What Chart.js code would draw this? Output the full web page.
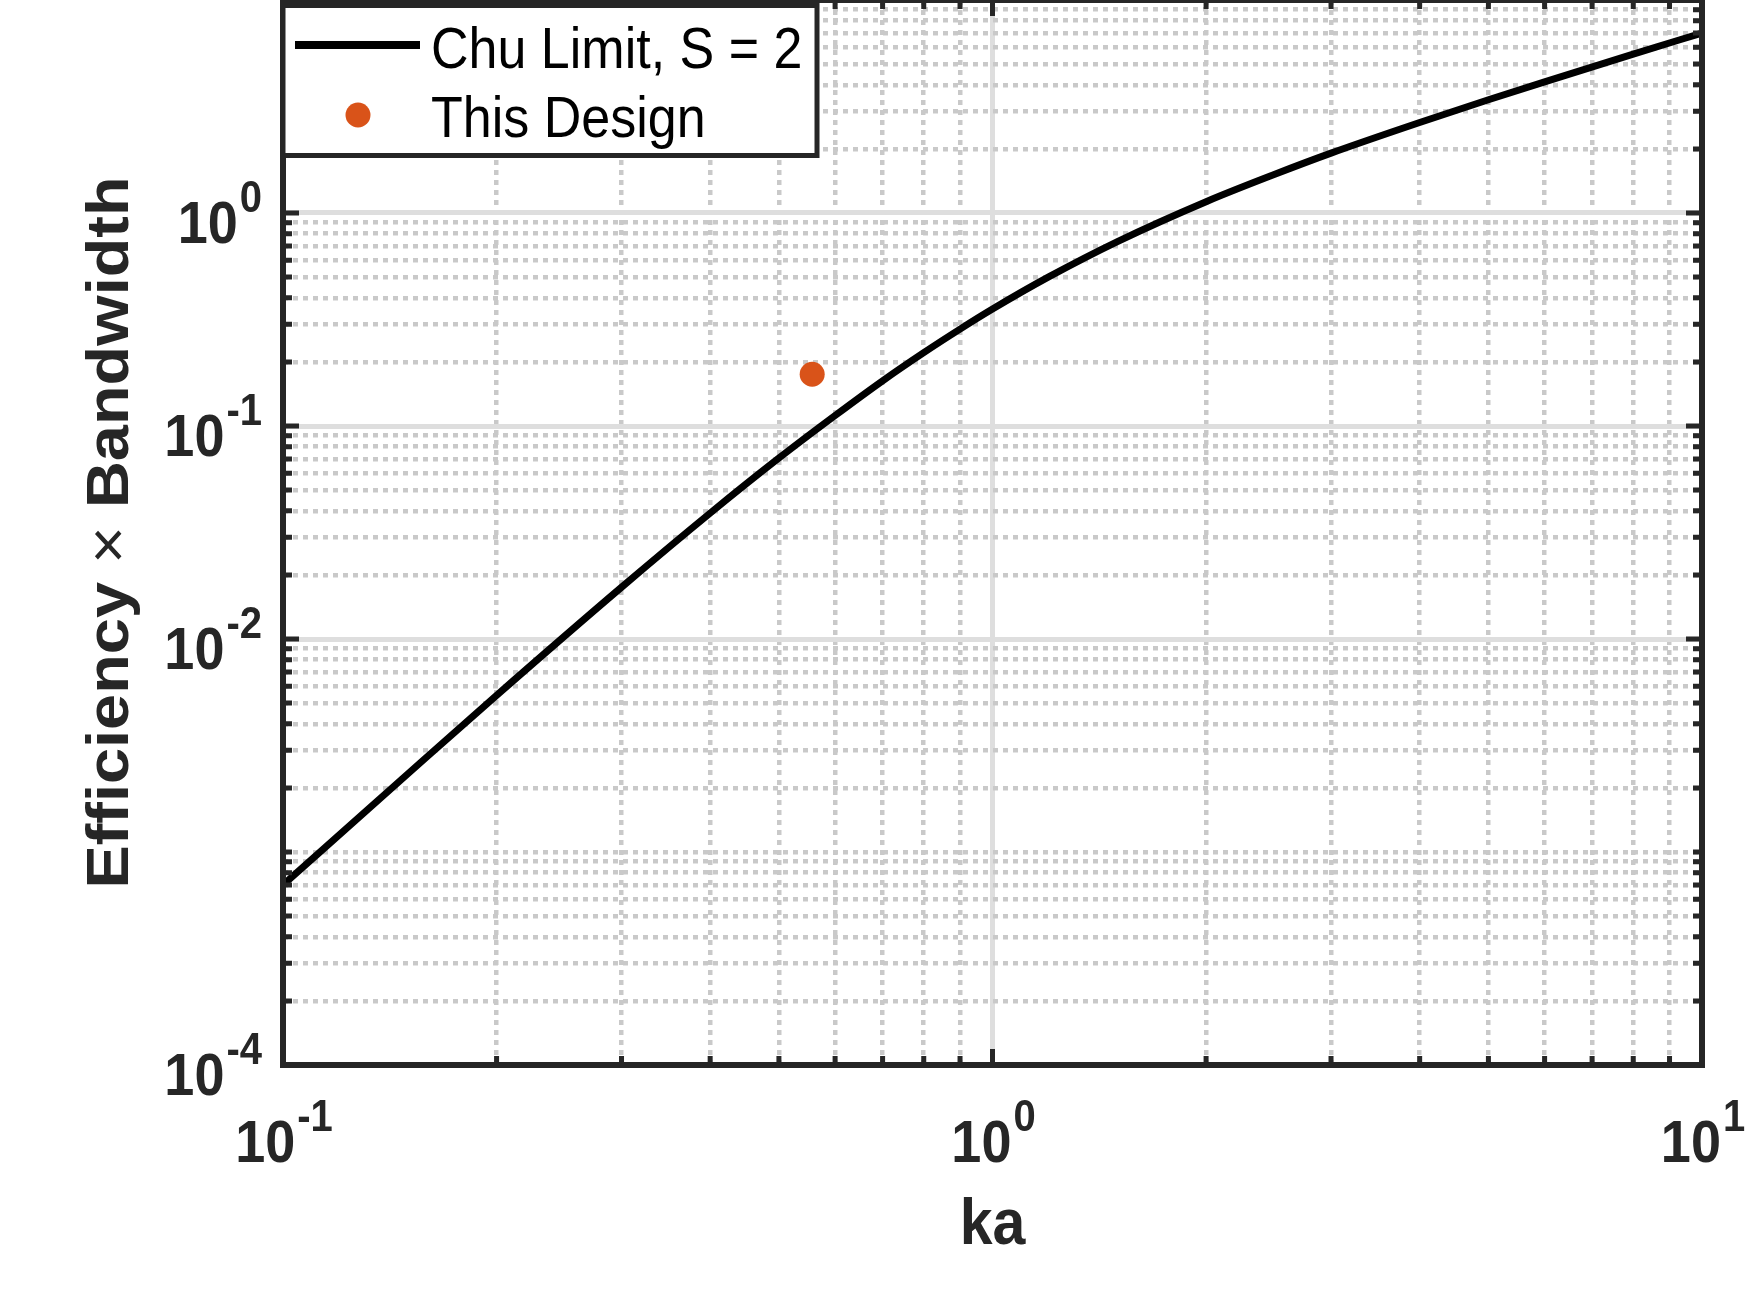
<!DOCTYPE html>
<html>
<head>
<meta charset="utf-8">
<title>Chu Limit</title>
<script src="https://cdn.jsdelivr.net/npm/chart.js@4/dist/chart.umd.min.js"></script>
<style>
  html, body { margin: 0; padding: 0; background: #fff; }
  canvas { display: block; }
</style>
</head>
<body>
<canvas id="chuChart" width="1763" height="1313"></canvas>
<script>
// Chu limit curve
const kaValues = [0.1, 0.15, 0.2, 0.3, 0.4, 0.5, 0.6, 0.7, 0.8, 0.9, 1.0, 1.2, 1.5, 2, 2.5, 3, 4, 5, 6, 8, 10];
const chuValues = [0.0007, 0.00233, 0.00544, 0.0175, 0.039, 0.0707, 0.112, 0.163, 0.221, 0.285, 0.354, 0.501, 0.734, 1.13, 1.52, 1.91, 2.66, 3.40, 4.13, 5.57, 7.00];

// the single design point
const designKa = [0.557];
const designValues = [0.175];

// labelled ticks (shown as 10^exp)
const xTickValues = [0.1, 1, 10];
const xTickExps = ['-1', '0', '1'];
const yTickValues = [1e-4, 1e-2, 1e-1, 1];
const yTickExps = ['-4', '-2', '-1', '0'];

const legendLabels = ['Chu Limit, S = 2', 'This Design'];
const xTitle = 'ka';
const yTitle = 'Efficiency \u00d7 Bandwidth';

const FONT = '"Liberation Sans", Arial, Helvetica, sans-serif';
const STRETCH = 1.1;     // text in the original is a bit taller than wide
const AXIS_COLOR = '#262626';
const ORANGE = '#D95319';

// all 1..9 x 10^n positions, major = the labelled ones
function logTicks(min, max, majors) {
  const ticks = [];
  for (let e = Math.floor(Math.log10(min)); e <= Math.ceil(Math.log10(max)); e++) {
    for (let m = 1; m <= 9; m++) {
      const v = parseFloat((m * Math.pow(10, e)).toPrecision(6));
      if (v < min * 0.999 || v > max * 1.001) continue;
      ticks.push({ value: v, major: majors.some(t => Math.abs(t - v) < v * 1e-6) });
    }
  }
  return ticks;
}

function drawPower(ctx, exp, x, y, align) {
  const base = 'bold 54px ' + FONT;
  const sup = 'bold 40px ' + FONT;
  ctx.font = base;
  const wb = ctx.measureText('10').width;
  ctx.font = sup;
  const ws = ctx.measureText(exp).width;
  const x0 = align === 'right' ? x - wb - ws : x - (wb + ws) / 2;
  ctx.save();
  ctx.translate(x0, y);
  ctx.scale(1, STRETCH);
  ctx.textAlign = 'left';
  ctx.textBaseline = 'alphabetic';
  ctx.font = base;
  ctx.fillText('10', 0, 0);
  ctx.font = sup;
  ctx.fillText(exp, wb + 2, -31 / STRETCH);
  ctx.restore();
}

// y title: bold words, the \times sign in normal weight like TeX
function drawYTitle(ctx, text) {
  const parts = text.split('\u00d7');
  const bold = 'bold 59px ' + FONT, plain = '59px ' + FONT;
  const pieces = [[parts[0], bold], ['\u00d7', plain], [parts[1], bold]];
  const widths = pieces.map(p => { ctx.font = p[1]; return ctx.measureText(p[0]).width; });
  let x = -widths.reduce((s, w) => s + w, 0) / 2;
  ctx.textAlign = 'left';
  pieces.forEach((p, i) => {
    ctx.font = p[1];
    ctx.fillText(p[0], x, 0);
    x += widths[i];
  });
}

const matlabAxes = {
  id: 'matlabAxes',
  afterDatasetsDraw(chart) {
    const { ctx, chartArea: a, scales } = chart;
    const xs = scales.x, ys = scales.y;
    ctx.save();

    // tick marks on all four sides, pointing in
    ctx.strokeStyle = AXIS_COLOR;
    ctx.lineWidth = 5;
    ctx.beginPath();
    xs.ticks.forEach(t => {
      const px = xs.getPixelForValue(t.value);
      const len = t.major ? 16 : 9;
      ctx.moveTo(px, a.bottom); ctx.lineTo(px, a.bottom - len);
      ctx.moveTo(px, a.top); ctx.lineTo(px, a.top + len);
    });
    ys.ticks.forEach(t => {
      const py = ys.getPixelForValue(t.value);
      const len = t.major ? 16 : 9;
      ctx.moveTo(a.left, py); ctx.lineTo(a.left + len, py);
      ctx.moveTo(a.right, py); ctx.lineTo(a.right - len, py);
    });
    ctx.stroke();

    // box
    ctx.lineWidth = 6;
    ctx.strokeRect(a.left, a.top, a.right - a.left, a.bottom - a.top);

    // tick labels
    ctx.fillStyle = AXIS_COLOR;
    xTickValues.forEach((v, i) => {
      drawPower(ctx, xTickExps[i], xs.getPixelForValue(v), a.bottom + 97, 'center');
    });
    yTickValues.forEach((v, i) => {
      drawPower(ctx, yTickExps[i], a.left - 23, ys.getPixelForValue(v) + 30, 'right');
    });

    // axis titles
    ctx.font = 'bold 59px ' + FONT;
    ctx.textAlign = 'center';
    ctx.textBaseline = 'alphabetic';
    ctx.save();
    ctx.translate((a.left + a.right) / 2, a.bottom + 179);
    ctx.scale(1, STRETCH);
    ctx.fillText(xTitle, 0, 0);
    ctx.restore();

    ctx.save();
    ctx.translate(128, (a.top + a.bottom) / 2);
    ctx.rotate(-Math.PI / 2);
    ctx.scale(STRETCH, 1);
    drawYTitle(ctx, yTitle);
    ctx.restore();

    ctx.restore();
  },
  afterDraw(chart) {
    const { ctx, chartArea: a } = chart;
    ctx.save();
    // legend box, top left inside the axes
    const bx = a.left, by = 5.5, bw = 534, bh = 150;
    ctx.fillStyle = '#fff';
    ctx.fillRect(bx, by, bw, bh);
    ctx.strokeStyle = AXIS_COLOR;
    ctx.lineWidth = 5;
    ctx.strokeRect(bx, by, bw, bh);

    ctx.strokeStyle = '#000';
    ctx.lineWidth = 8;
    ctx.beginPath();
    ctx.moveTo(295, 45); ctx.lineTo(420, 45);
    ctx.stroke();

    ctx.fillStyle = ORANGE;
    ctx.beginPath();
    ctx.arc(358, 115, 12.5, 0, Math.PI * 2);
    ctx.fill();

    ctx.fillStyle = '#000';
    ctx.font = '52px ' + FONT;
    ctx.textAlign = 'left';
    ctx.textBaseline = 'alphabetic';
    [68, 137].forEach((yb, i) => {
      ctx.save();
      ctx.translate(431, yb);
      ctx.scale(1, STRETCH);
      ctx.fillText(legendLabels[i], 0, 0);
      ctx.restore();
    });
    ctx.restore();
  }
};

const gridColor = c => (c.tick && c.tick.major) ? '#dedede' : '#c9c9c9';
const gridWidth = c => (c.tick && c.tick.major) ? 5 : 4.5;
const gridDash = c => (c.tick && !c.tick.major) ? [5, 5] : [];

new Chart(document.getElementById('chuChart'), {
  type: 'scatter',
  data: {
    datasets: [
      {
        label: legendLabels[0],
        data: kaValues.map((k, i) => ({ x: k, y: chuValues[i] })),
        showLine: true,
        borderColor: '#000',
        borderWidth: 7,
        pointRadius: 0,
        cubicInterpolationMode: 'monotone'
      },
      {
        label: legendLabels[1],
        data: designKa.map((k, i) => ({ x: k, y: designValues[i] })),
        showLine: false,
        pointRadius: 12.5,
        pointBorderWidth: 0,
        backgroundColor: ORANGE,
        borderColor: ORANGE
      }
    ]
  },
  options: {
    responsive: false,
    animation: false,
    layout: { autoPadding: false, padding: { left: 283, right: 61, top: 0, bottom: 248 } },
    plugins: {
      legend: { display: false },
      tooltip: { enabled: false }
    },
    scales: {
      x: {
        type: 'logarithmic',
        min: 0.1,
        max: 10,
        afterBuildTicks: s => { s.ticks = logTicks(0.1, 10, xTickValues); },
        ticks: { display: false },
        grid: { drawTicks: false, color: gridColor, lineWidth: gridWidth },
        border: { display: false, dash: gridDash }
      },
      y: {
        type: 'logarithmic',
        min: 1e-4,
        max: 10,
        afterBuildTicks: s => { s.ticks = logTicks(1e-4, 10, yTickValues); },
        ticks: { display: false },
        grid: { drawTicks: false, color: gridColor, lineWidth: gridWidth },
        border: { display: false, dash: gridDash }
      }
    }
  },
  plugins: [matlabAxes]
});
</script>
</body>
</html>
